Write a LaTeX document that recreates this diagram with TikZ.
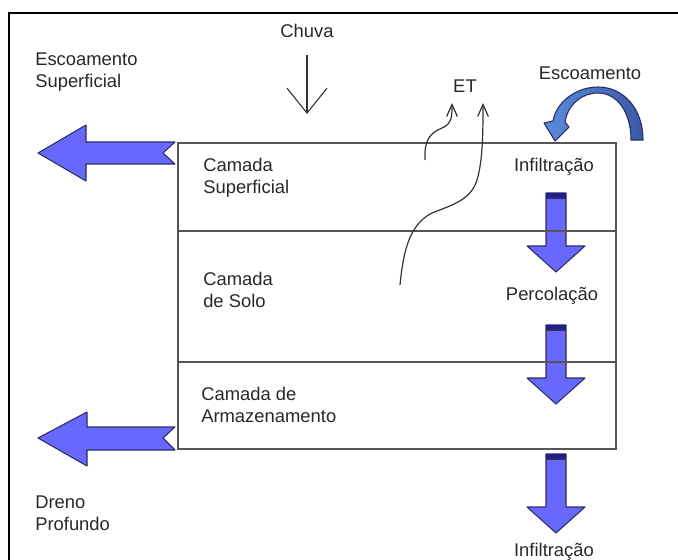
\documentclass[tikz,border=0pt]{standalone}
\usepackage{fontspec}
\setmainfont{Liberation Sans}
\usetikzlibrary{arrows.meta}

\definecolor{arrowblue}{RGB}{104,104,255}
\definecolor{arrowedge}{RGB}{45,45,100}
\definecolor{capblue}{RGB}{30,30,140}
\definecolor{curvelight}{RGB}{90,140,220}
\definecolor{curvedark}{RGB}{58,88,168}
\definecolor{linegray}{RGB}{85,85,85}
\definecolor{textgray}{RGB}{40,40,40}

\begin{document}
\begin{tikzpicture}[x=0.75pt,y=-0.75pt]

  \tikzstyle{every node}=[font=\fontsize{13.8}{16.5}\selectfont,text=textgray,inner sep=0pt]

  \tikzset{block/.style={fill=arrowblue,draw=arrowedge,line width=0.8pt,line join=round}}
  \tikzset{wavyptr/.style={draw=black!80,line width=0.9pt,-{Straight Barb[length=9pt,width=8pt]}}}
  \tikzset{rainptr/.style={draw=black!80,line width=0.8pt,-{Straight Barb[length=18.75pt,width=30pt]}}}

  \useasboundingbox (0,0) rectangle (678,560);

  % Frame
  \draw[line width=1.2pt] (9,560) -- (9,13) -- (678,13);

  % Labels
  \node[] (Chuva) at (307,31) {Chuva};
  \node[anchor=west,align=left] (Escoamento Superficial) at (35,72) {Escoamento\\Superficial};
  \node[] (ET) at (465,86) {ET};
  \node[] (Escoamento) at (590,73) {Escoamento};
  \node[] (Infiltracao top) at (554,167) {Infiltração};
  \node[] (Percolacao) at (552,296) {Percolação};
  \node[] (Infiltracao bottom) at (554,552) {Infiltração};
  \node[anchor=west,align=left] (Dreno Profundo) at (35,513) {Dreno\\Profundo};

  % Layers
  \node[anchor=west,align=left] (Camada Superficial) at (203,178) {Camada\\Superficial};
  \node[anchor=west,align=left] (Camada de Solo) at (203,290) {Camada\\de Solo};
  \node[anchor=west,align=left] (Camada de Armazenamento) at (201,405) {Camada de\\Armazenamento};

  % Vertical flows
  \foreach \t in {193,325,454} {
    \draw[block] (546,\t) -- (566,\t) -- (566,\t+53) -- (585,\t+53) -- (556,\t+79) -- (527,\t+53) -- (546,\t+53) -- cycle;
    \fill[capblue] (546,\t) rectangle (566,\t+5);
    \draw[arrowedge,line width=0.8pt] (546,\t+5) -- (566,\t+5);
  }

  % Layer boundaries
  \draw[linegray,line width=1.5pt] (178,143) rectangle (616,449);
  \draw[linegray,line width=1.5pt] (178,231) -- (616,231);
  \draw[linegray,line width=1.5pt] (178,362) -- (616,362);

  % Lateral flows
  \draw[block] (38,153) -- (86,125) -- (86,142) -- (175,142) -- (163,153) -- (175,164) -- (86,164) -- (86,181) -- cycle;
  \draw[block] (38,438) -- (87,412) -- (87,427) -- (175,427) -- (163,438) -- (175,450) -- (87,450) -- (87,466) -- cycle;

  % Runoff turning back
  \shade[left color=curvelight,right color=curvedark,draw=arrowedge,line width=0.8pt,line join=round]
    (643,140) .. controls (643,108) and (623,87) .. (598,87)
    .. controls (575,87) and (556,103) .. (553,121)
    -- (544,123) -- (555,141) -- (569,127) -- (565,122)
    .. controls (568,104) and (582,93) .. (598,93)
    .. controls (617,93) and (631,112) .. (631,140) -- cycle;

  % Rain
  \coordinate (rain start) at (307,55);
  \coordinate (rain end) at (307,114);
  \draw[rainptr] (rain start) -- (rain end);

  % Evapotranspiration
  \coordinate (ET surface) at (425,160);
  \coordinate (ET soil) at (400,285);
  \coordinate (ET left tip) at (452,103);
  \coordinate (ET right tip) at (483,103);
  \draw[wavyptr] (ET surface) .. controls (424,140) and (430,133) .. (442,128)
    .. controls (452,124) and (452,116) .. (ET left tip);
  \draw[wavyptr] (ET soil) .. controls (403,255) and (408,225) .. (432,213)
    .. controls (452,205) and (471,200) .. (477,180)
    .. controls (483,160) and (483,130) .. (ET right tip);

\end{tikzpicture}
\end{document}
